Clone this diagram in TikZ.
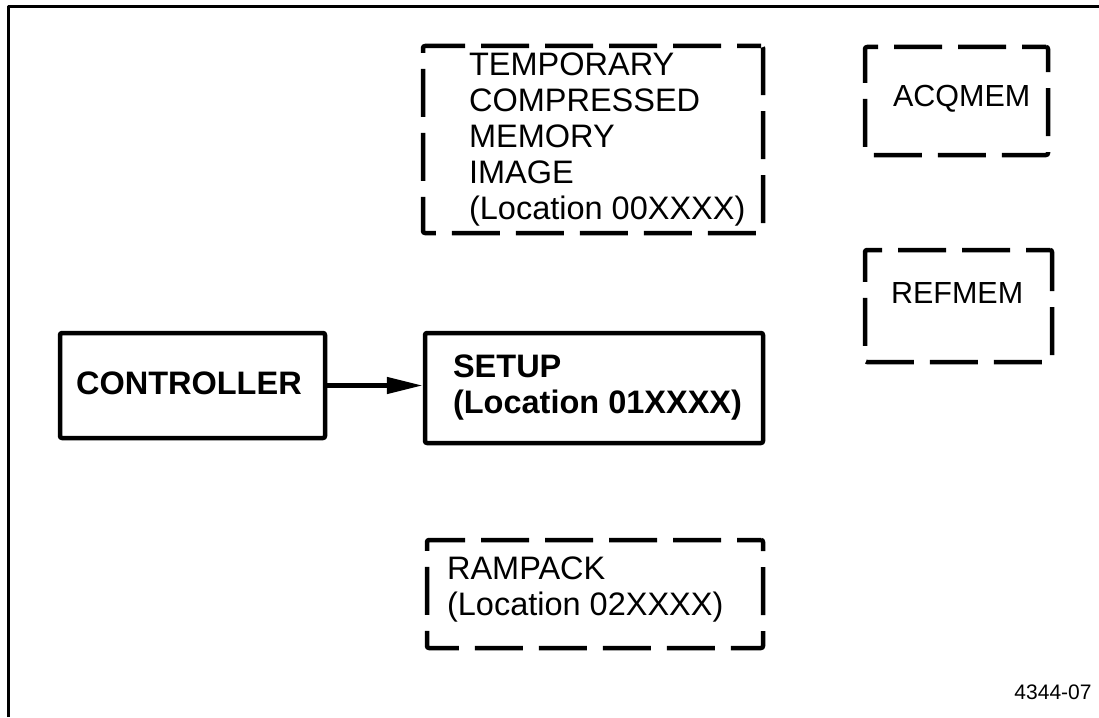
\documentclass[tikz,border=0pt]{standalone}
\usepackage{fontspec}
\setmainfont{Liberation Sans}
\usetikzlibrary{arrows.meta}

\begin{document}
\begin{tikzpicture}[
     x = 1pt, y = -1pt, % one unit is one pixel, y grows downwards
     > = {Triangle[length=36pt,width=16pt]}, % arrow head style
     line join = round,
     semithick % line style
 ]

 \tikzstyle{frameline}=[
     draw = black,
     line width = 3pt
 ]
 \tikzstyle{process}=[
     draw = black,
     line width = 4.5pt,
     rectangle,
     rounded corners = 2pt,
     inner sep = 0pt
 ]
 \tikzstyle{membox}=[
     process,
     dash pattern = on 48pt off 16pt,
     dash phase = 24pt
 ]
 \tikzstyle{memtext}=[
     anchor = west,
     align = left,
     inner sep = 0pt,
     font = \fontsize{32.5}{36}\selectfont
 ]
 \tikzstyle{smalltext}=[
     memtext,
     font = \fontsize{30.5}{36}\selectfont
 ]
 \tikzstyle{proctext}=[
     memtext,
     font = \fontsize{32.5}{36}\selectfont\bfseries
 ]

 \useasboundingbox (0,0) rectangle (1099,717);

 % open frame, top and left side only
 \draw[frameline] (8,717) -- (8,7) -- (1099,7);

 % memory areas
 \node[membox, minimum width=340pt, minimum height=187pt] (temp) at (593,139.5) {};
 \node[membox, minimum width=183pt, minimum height=108pt] (acq) at (956.5,101) {};
 \node[membox, minimum width=187pt, minimum height=112pt] (ref) at (958.5,306) {};
 \node[membox, minimum width=336pt, minimum height=108pt] (ramp) at (595,594) {};

 % controller and setup
 \node[process, minimum width=265pt, minimum height=105pt] (ctrl) at (192.5,385.5) {};
 \node[process, minimum width=338pt, minimum height=110pt] (setup) at (594,388) {};

 \node[memtext] (temptxt) at ([xshift=48pt]temp.west)
   {TEMPORARY\\COMPRESSED\\MEMORY\\IMAGE\\(Location 00XXXX)};
 \node[smalltext] (acqtxt) at ([xshift=30pt,yshift=2pt]acq.west) {ACQMEM};
 \node[smalltext] (reftxt) at ([xshift=28pt,yshift=13pt]ref.west) {REFMEM};
 \node[memtext] (ramptxt) at ([xshift=22pt,yshift=4pt]ramp.west)
   {RAMPACK\\(Location 02XXXX)};
 \node[proctext] (ctrltxt) at ([xshift=18pt,yshift=2pt]ctrl.west) {CONTROLLER};
 \node[proctext] (setuptxt) at ([xshift=30pt]setup.west)
   {SETUP\\(Location 01XXXX)};

 \path[->, draw, line width=4.5pt] (ctrl.east) -- (ctrl.east -| setup.west);

 \node[font=\fontsize{21}{24}\selectfont, inner sep=0pt] (fignum) at (1053,692) {4344-07};
\end{tikzpicture}
\end{document}
